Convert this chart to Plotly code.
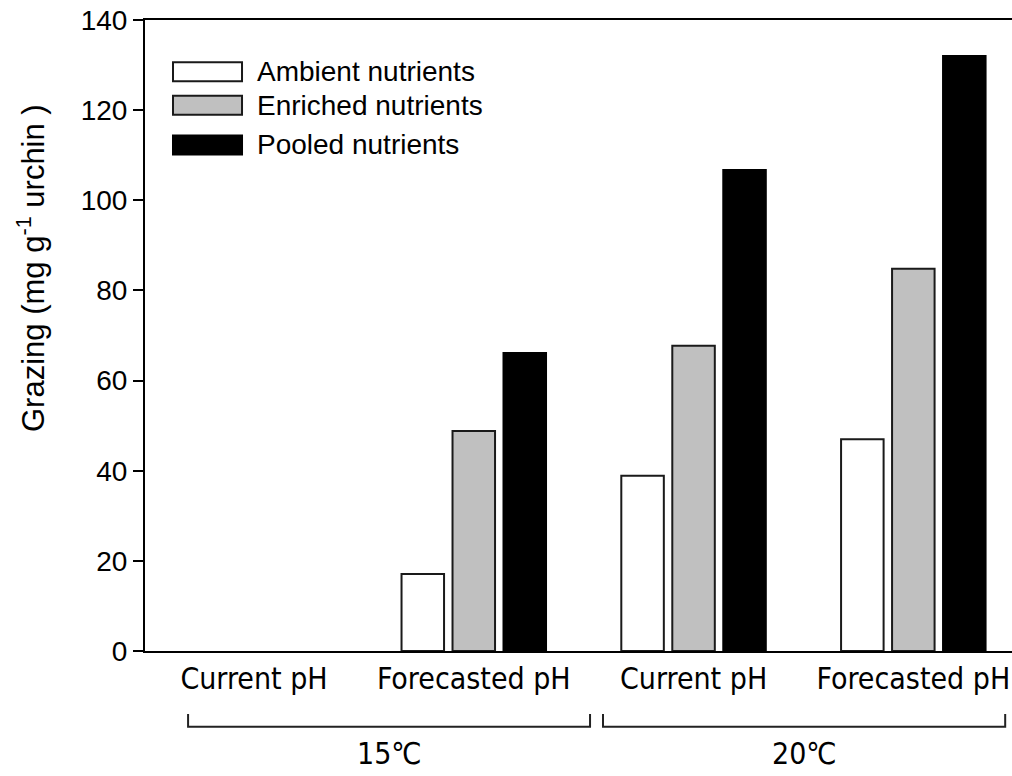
import plotly.graph_objects as go

# ---- data ----
categories = ["Current pH", "Forecasted pH", "Current pH", "Forecasted pH"]
temperatures = ["15\u2103", "20\u2103"]
series_names = ["Ambient nutrients", "Enriched nutrients", "Pooled nutrients"]
ambient = [None, 17.1, 38.9, 47.0]
enriched = [None, 48.8, 67.7, 84.8]
pooled = [None, 66.1, 106.7, 132.0]
y_ticks = [0, 20, 40, 60, 80, 100, 120, 140]

# ---- styles ----
fills = ["#ffffff", "#c0c0c0", "#000000"]
outlines = ["#1a1a1a", "#1a1a1a", "#000000"]
FONT = "Liberation Sans, Arial, sans-serif"
NARROW = "Liberation Sans Narrow, Arial Narrow, DejaVu Sans Condensed, Liberation Sans, sans-serif"

xpos = list(range(len(categories)))
fig = go.Figure()
for name, vals, fc, lc in zip(series_names, [ambient, enriched, pooled], fills, outlines):
    fig.add_trace(go.Bar(
        x=xpos, y=vals, name=name,
        marker=dict(color=fc, line=dict(color=lc, width=2)),
        showlegend=False,
    ))

fig.update_layout(
    width=1012, height=776,
    margin=dict(l=145, r=0, t=20, b=125),
    plot_bgcolor="white", paper_bgcolor="white",
    barmode="group", bargap=0.304, bargroupgap=0.166,
    font=dict(family=FONT, size=28, color="black"),
    xaxis=dict(
        range=[-0.496, 3.449], tickvals=xpos, ticktext=categories,
        showline=True, linecolor="black", linewidth=2, mirror=True,
        ticks="", showgrid=False, zeroline=False,
        tickfont=dict(family=NARROW, size=30),
    ),
    yaxis=dict(
        range=[0, 140], tickvals=y_ticks,
        showline=True, linecolor="black", linewidth=2,
        ticks="outside", ticklen=10, tickwidth=2, tickcolor="black",
        showgrid=False, zeroline=False,
        tickfont=dict(family=FONT, size=28),
    ),
)

# y-axis title
fig.add_annotation(
    xref="paper", yref="paper", x=(31 - 145) / 867, y=(651 - 268) / 631,
    text="Grazing (mg g<sup>-1</sup> urchin )", textangle=-90,
    showarrow=False, font=dict(family=FONT, size=31), xanchor="center", yanchor="middle",
)

# manual legend
legend_rows = [0.918, 0.865, 0.802]
for name, fc, lc, yy in zip(series_names, fills, outlines, legend_rows):
    fig.add_shape(type="rect", xref="paper", yref="paper",
                  x0=0.0323, x1=0.1119, y0=yy - 0.015, y1=yy + 0.015,
                  fillcolor=fc, line=dict(color=lc, width=2))
    fig.add_annotation(xref="paper", yref="paper", x=0.127, y=yy, text=name,
                       showarrow=False, xanchor="left", yanchor="middle",
                       font=dict(family=FONT, size=28))

# temperature brackets
brackets = [(-0.30, 1.529), (1.588, 3.418)]
for (b0, b1), label in zip(brackets, temperatures):
    fig.add_shape(type="path", xref="x", yref="paper",
                  path=f"M {b0},-0.100 L {b0},-0.120 L {b1},-0.120 L {b1},-0.100",
                  line=dict(color="#222222", width=2))
    fig.add_annotation(xref="x", yref="paper", x=(b0 + b1) / 2, y=-0.162, text=label,
                       showarrow=False, xanchor="center", yanchor="middle",
                       font=dict(family=NARROW, size=30))

fig.write_html("out.html")
